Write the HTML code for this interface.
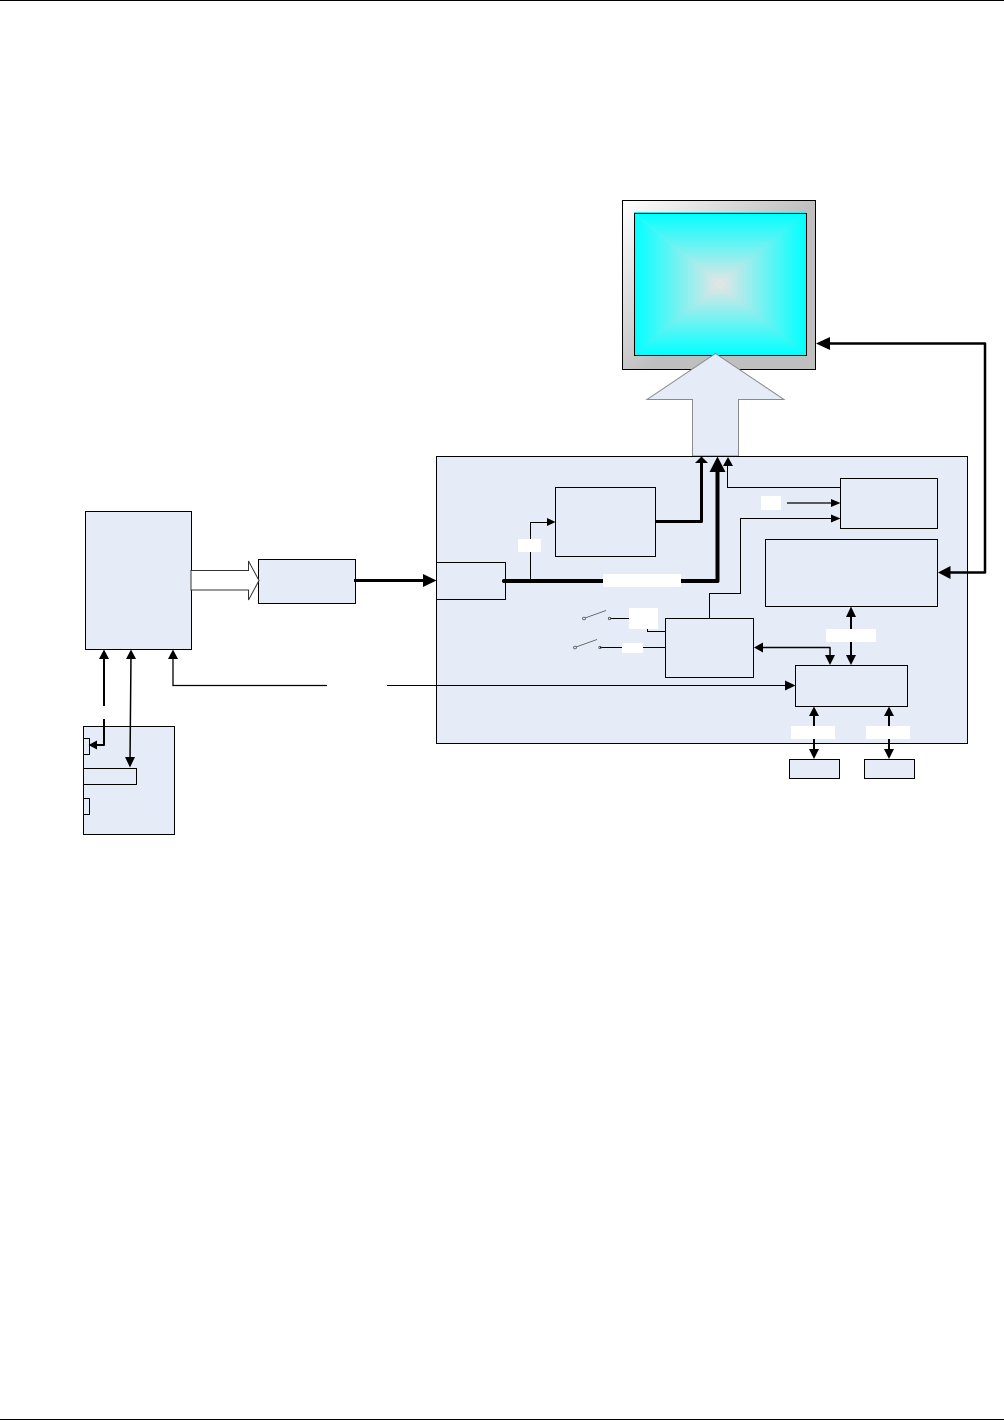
<!DOCTYPE html>
<html lang="en">
<head>
<meta charset="utf-8">
<title>Block diagram</title>
<style>
html,body{margin:0;padding:0;background:#fff;}
svg{display:block;position:absolute;left:0;top:0;}
</style>
</head>
<body>
<svg width="1004" height="1420" viewBox="0 0 1004 1420" xmlns="http://www.w3.org/2000/svg">
<defs>
<linearGradient id="bevel" gradientUnits="userSpaceOnUse" x1="622" y1="200" x2="720" y2="298">
<stop offset="0" stop-color="#ffffff"/><stop offset="1" stop-color="#bfbfbf"/>
</linearGradient>
<linearGradient id="gT" gradientUnits="userSpaceOnUse" x1="0" y1="213" x2="0" y2="284"><stop offset="0" stop-color="#00ffff"/><stop offset="1" stop-color="#e8e4e4"/></linearGradient>
<linearGradient id="gB" gradientUnits="userSpaceOnUse" x1="0" y1="355" x2="0" y2="284"><stop offset="0" stop-color="#00ffff"/><stop offset="1" stop-color="#e8e4e4"/></linearGradient>
<linearGradient id="gL" gradientUnits="userSpaceOnUse" x1="634" y1="0" x2="720" y2="0"><stop offset="0" stop-color="#00ffff"/><stop offset="1" stop-color="#e8e4e4"/></linearGradient>
<linearGradient id="gR" gradientUnits="userSpaceOnUse" x1="806" y1="0" x2="720" y2="0"><stop offset="0" stop-color="#00ffff"/><stop offset="1" stop-color="#e8e4e4"/></linearGradient>
</defs>

<!-- page rules -->
<rect x="0" y="0" width="1004" height="1" fill="#000"/>
<rect x="0" y="1419" width="1004" height="1" fill="#000"/>

<!-- monitor -->
<rect x="622.5" y="200.5" width="193" height="169" fill="url(#bevel)" stroke="#000" stroke-width="1"/>
<rect x="634" y="212" width="172" height="1" fill="#00ffff"/>
<polygon points="634.5,213.5 806.5,213.5 720,284" fill="url(#gT)"/>
<polygon points="634.5,355.5 806.5,355.5 720,284" fill="url(#gB)"/>
<polygon points="634.5,213.5 634.5,355.5 720,284" fill="url(#gL)"/>
<polygon points="806.5,213.5 806.5,355.5 720,284" fill="url(#gR)"/>
<rect x="634.5" y="213.5" width="172" height="142" fill="none" stroke="#000" stroke-width="1"/>

<!-- large up arrow -->
<polygon points="715.5,353.5 784,399.5 738.5,399.5 738.5,456 692.5,456 692.5,399.5 647,399.5" fill="#e6ecf7" stroke="#8a8a8a" stroke-width="1"/>

<!-- main panel -->
<rect x="436.5" y="456.5" width="531" height="287" fill="#e6ecf7" stroke="#000" stroke-width="1"/>

<!-- boxes -->
<g fill="#e6ecf7" stroke="#000" stroke-width="1">
<rect x="85.5" y="511.5" width="106" height="138"/>
<rect x="258.5" y="559.5" width="97" height="44"/>
<rect x="83.5" y="726.5" width="91" height="108"/>
<rect x="83.5" y="738.5" width="6" height="16"/>
<rect x="83.5" y="768.5" width="53" height="16"/>
<rect x="83.5" y="798.5" width="6" height="16"/>
<rect x="555.5" y="487.5" width="100" height="69"/>
<rect x="436.5" y="562.5" width="69" height="37"/>
<rect x="840.5" y="478.5" width="97" height="50"/>
<rect x="765.5" y="539.5" width="172" height="67"/>
<rect x="665.5" y="618.5" width="88" height="59"/>
<rect x="795.5" y="665.5" width="112" height="41"/>
<rect x="789.5" y="759.5" width="50" height="19"/>
<rect x="864.5" y="759.5" width="50" height="19"/>
</g>

<!-- hollow arrow -->
<polygon points="191,570.5 248.5,570.5 248.5,561 259,580.5 248.5,600 248.5,590 191,590" fill="#fff" stroke="#333" stroke-width="1"/>

<!-- thin connectors -->
<g fill="none" stroke="#000" stroke-width="1">
<polyline points="530.5,581 530.5,522.5 549,522.5"/>
<polyline points="727.5,462 727.5,487.5 840.5,487.5"/>
<line x1="787" y1="503" x2="834" y2="503" stroke-width="1.2"/>
<polyline points="709.5,618.5 709.5,593.5 740.5,593.5 740.5,518.5 834,518.5"/>
<polyline points="610,618.5 647.5,618.5 647.5,631.5 665.5,631.5"/>
<line x1="600" y1="647.5" x2="665.5" y2="647.5"/>
<polyline points="173,655 173,685.5 327,685.5" stroke-width="1.3"/>
<line x1="387" y1="685.5" x2="788" y2="685.5"/>
</g>

<!-- medium / thick connectors -->
<g fill="none" stroke="#000" stroke-linejoin="round">
<line x1="354" y1="580.5" x2="425" y2="580.5" stroke-width="3"/>
<polyline points="504,581 717.5,581 717.5,470" stroke-width="4" stroke-linecap="round"/>
<polyline points="655.5,521.5 701.5,521.5 701.5,461" stroke-width="3"/>
<polyline points="822,343.5 985,343.5 985,572.5 948,572.5" stroke-width="2.5"/>
<line x1="104" y1="655" x2="104" y2="706" stroke-width="2"/>
<polyline points="104,719 104,745 95,745" stroke-width="2"/>
<line x1="131" y1="655" x2="130" y2="762" stroke-width="1.5"/>
<polyline points="760,647.5 830,647.5 830,658" stroke-width="1.5"/>
<line x1="851" y1="612" x2="851" y2="660" stroke-width="2"/>
<line x1="814" y1="712" x2="814" y2="753" stroke-width="2"/>
<line x1="889" y1="712" x2="889" y2="753" stroke-width="2"/>
</g>

<!-- arrowheads -->
<g fill="#000">
<polygon points="436.5,580.5 423,574 423,587"/>
<polygon points="555.5,522 547,518 547,526"/>
<polygon points="717.5,456.5 709.5,472 725.5,472"/>
<polygon points="701.5,456.5 695,463 708,463"/>
<polygon points="728,457 723,466 733,466"/>
<polygon points="816,343.5 830,337 830,350"/>
<polygon points="938,572.5 950.5,566 950.5,579"/>
<polygon points="840.5,503 831,499 831,507"/>
<polygon points="840.5,518.5 831,514.5 831,522.5"/>
<polygon points="104,649.5 99,659 109,659"/>
<polygon points="88.5,745 97,740.5 97,749.5"/>
<polygon points="131,649.5 126,659 136,659"/>
<polygon points="130,767.5 125,757 135,757"/>
<polygon points="173,649.5 168,659 178,659"/>
<polygon points="795.5,685.5 785,680.5 785,690.5"/>
<polygon points="754,647.5 763,642.5 763,652.5"/>
<polygon points="830,665 825,655 835,655"/>
<polygon points="851,606.5 846,617 856,617"/>
<polygon points="851,665 846,655 856,655"/>
<polygon points="814,706.5 809,716 819,716"/>
<polygon points="814,759 809,749 819,749"/>
<polygon points="889,706.5 884,716 894,716"/>
<polygon points="889,759 884,749 894,749"/>
</g>

<!-- switches -->
<g fill="none" stroke="#555" stroke-width="0.8">
<line x1="585" y1="618" x2="606" y2="610.5"/>
<circle cx="584" cy="618.5" r="1.4"/>
<circle cx="609.5" cy="618.5" r="1.2"/>
<line x1="576" y1="647" x2="597" y2="639.5"/>
<circle cx="575" cy="647.5" r="1.4"/>
<circle cx="600" cy="647.5" r="1.2"/>
</g>

<!-- white label patches -->
<g fill="#fff">
<rect x="327" y="680" width="60" height="11"/>
<rect x="100" y="706" width="8" height="13"/>
<rect x="518" y="539" width="23" height="13"/>
<rect x="603" y="574" width="78" height="13"/>
<rect x="629" y="608" width="29" height="21"/>
<rect x="622" y="643" width="21" height="10"/>
<rect x="761" y="496" width="20" height="14"/>
<rect x="826" y="629" width="50" height="13"/>
<rect x="791" y="726" width="44" height="13"/>
<rect x="866" y="726" width="44" height="13"/>
</g>
</svg>
</body>
</html>
